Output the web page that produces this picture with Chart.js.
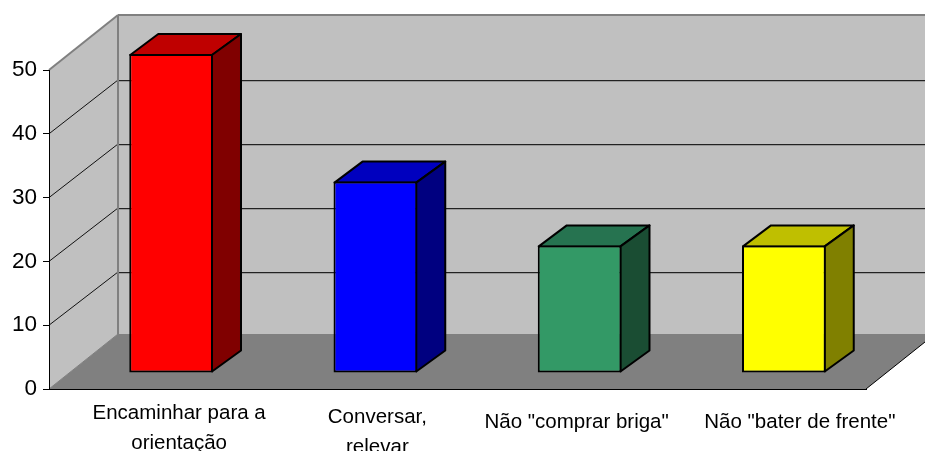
<!DOCTYPE html>
<html><head><meta charset="utf-8">
<style>html,body{margin:0;padding:0;background:#fff;overflow:hidden}canvas{display:block}</style>
<script src="https://cdn.jsdelivr.net/npm/chart.js@4"></script>
</head><body><canvas id="c" width="925" height="451"></canvas>
<script>
const categories = [['Encaminhar para a','orientação'],['Conversar,','relevar'],'Não "comprar briga"','Não "bater de frente"'];
const values = [50,30,20,20];
const frontColors = ['#ff0000','#0000ff','#339966','#ffff00'];
const topColors = ['#bf0000','#0000bf','#267350','#bfbf00'];
const sideColors = ['#800000','#000080','#1a4d33','#808000'];

const wall = {dx:69, dy:-55};
const barDepth = {dx:29, dy:-21};
const barShift = {x:20, y:-16};
const labelShift = [{x:28,y:1},{x:22,y:5},{x:17,y:10},{x:36,y:10}];

function poly(ctx, pts, fill, stroke, lw){
  ctx.beginPath();
  pts.forEach((p,i)=> i?ctx.lineTo(p[0],p[1]):ctx.moveTo(p[0],p[1]));
  ctx.closePath();
  if(fill){ctx.fillStyle=fill;ctx.fill();}
  if(stroke){ctx.strokeStyle=stroke;ctx.lineWidth=lw;ctx.lineJoin='round';ctx.stroke();}
}
function seg(ctx,x1,y1,x2,y2,c,lw){
  ctx.beginPath();ctx.moveTo(x1,y1);ctx.lineTo(x2,y2);ctx.strokeStyle=c;ctx.lineWidth=lw;ctx.stroke();
}
const box3d = {
  id:'box3d',
  beforeDraw(chart){
    const ctx=chart.ctx, a=chart.chartArea, y=chart.scales.y, x=chart.scales.x;
    const L=a.left,R=a.right,T=y.getPixelForValue(y.max),B=y.getPixelForValue(0);
    const dx=wall.dx,dy=wall.dy;
    ctx.save();
    ctx.fillStyle='#fff';ctx.fillRect(0,0,chart.width,chart.height);
    poly(ctx,[[L+dx,T+dy],[R+dx,T+dy],[R+dx,B+dy],[L+dx,B+dy]],'#c0c0c0');
    poly(ctx,[[L,T],[L+dx,T+dy],[L+dx,B+dy],[L,B]],'#c0c0c0');
    poly(ctx,[[L,B],[L+dx,B+dy],[R+dx,B+dy],[R,B]],'#808080');
    y.ticks.forEach(t=>{
      if(t.value===0||t.value===y.max) return;
      const p=y.getPixelForValue(t.value);
      const back=Math.round(T+dy+(p-T)/(B-T)*320)+1;
      seg(ctx,L,p,L+dx,back,'#111',1);
      seg(ctx,L+dx,back+0.5,R+dx,back+0.5,'#222',1);
      seg(ctx,L+dx,back+1.5,R+dx,back+1.5,'#9a9a9a',1);
    });
    seg(ctx,L,T,L+dx,T+dy,'#808080',2);
    seg(ctx,L+dx,T+dy,R+dx,T+dy,'#808080',2);
    seg(ctx,L+dx,T+dy,L+dx,B+dy,'#808080',2);
    seg(ctx,L,B,L+dx,B+dy,'#808080',1);
    seg(ctx,R,B,R+dx,B+dy,'#000',1);
    ctx.restore();
    x.getLabelItems().forEach((it,i)=>{
      if(it._moved) return;
      it._moved=true;
      const t=it.options.translation;
      it.options.translation=[t[0]+labelShift[i].x,t[1]+labelShift[i].y];
    });
  },
  beforeDatasetsDraw(chart){
    const ctx=chart.ctx;
    ctx.save();
    ctx.translate(barShift.x,barShift.y);
    const d=barDepth;
    chart.getDatasetMeta(0).data.forEach((b,i)=>{
      const p=b.getProps(['x','y','base','width'],true);
      const l=p.x-p.width/2,r=p.x+p.width/2,t=p.y,bt=p.base;
      poly(ctx,[[l+1,t+1],[l+d.dx,t+d.dy+1],[r+d.dx-1,t+d.dy+1],[r-1,t+1]],topColors[i],'#000',2);
      poly(ctx,[[r-1,t+1],[r+d.dx-1,t+d.dy+1],[r+d.dx-1,bt+d.dy-1],[r-1,bt-1]],sideColors[i],'#000',2);
    });
  },
  afterDatasetsDraw(chart){ chart.ctx.restore(); }
};

new Chart(document.getElementById('c'),{
  type:'bar',
  data:{labels:categories,datasets:[{
    data:values,backgroundColor:frontColors,borderColor:'#000',borderWidth:2,borderSkipped:false,
    barPercentage:0.41,categoryPercentage:1,clip:false
  }]},
  options:{
    responsive:false,animation:false,
    layout:{padding:{top:70,right:59,left:0,bottom:0}},
    plugins:{legend:{display:false},tooltip:{enabled:false}},
    scales:{
      x:{
        grid:{display:false},
        border:{display:true,color:'#000',width:1},
        afterFit(s){s.height=62;},
        ticks:{autoSkip:false,maxRotation:0,minRotation:0,padding:1,color:'#000',
          font:{family:'"Liberation Sans",Arial,sans-serif',size:20.5,lineHeight:1.44}}
      },
      y:{
        min:0,max:50,
        afterFit(s){s.width=49;},
        border:{display:true,color:'#000',width:1},
        grid:{drawOnChartArea:false,drawTicks:true,tickLength:6,color:'#000'},
        ticks:{stepSize:10,padding:6,color:'#000',
          font:{family:'"Liberation Sans",Arial,sans-serif',size:22.5}}
      }
    }
  },
  plugins:[box3d]
});
</script></body></html>
